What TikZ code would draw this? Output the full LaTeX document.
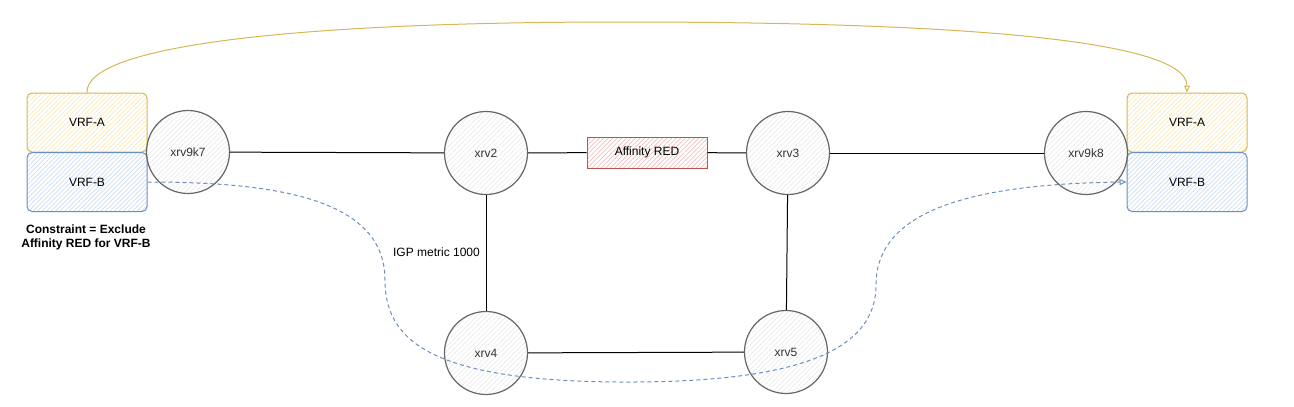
\documentclass[tikz,border=0pt]{standalone}
\usepackage{fontspec}
\setmainfont{Liberation Sans}
\usetikzlibrary{arrows.meta,patterns.meta}
\definecolor{yfill}{HTML}{FFF2CC}
\definecolor{ystroke}{HTML}{D6B656}
\definecolor{bfill}{HTML}{DAE8FC}
\definecolor{bstroke}{HTML}{6C8EBF}
\definecolor{rfill}{HTML}{F8CECC}
\definecolor{rstroke}{HTML}{B85450}
\definecolor{gstroke}{HTML}{666666}
\definecolor{gfill}{HTML}{E6E6E6}
\definecolor{gtext}{HTML}{333333}
\tikzset{
  router/.style={circle, draw=gstroke, line width=1.2pt, minimum size=83pt, inner sep=0pt,
    pattern={Lines[angle=45,distance=3.5pt,line width=0.5pt]}, pattern color=gfill,
    text=gtext, font=\fontsize{12}{14}\selectfont},
  vrfa/.style={rectangle, rounded corners=5pt, draw=ystroke, line width=1pt, minimum width=120pt, minimum height=59pt,
    pattern={Lines[angle=45,distance=3.2pt,line width=0.7pt]}, pattern color=yfill!85!ystroke,
    font=\fontsize{12}{14}\selectfont},
  vrfb/.style={rectangle, rounded corners=5pt, draw=bstroke, line width=1pt, minimum width=120pt, minimum height=59pt,
    pattern={Lines[angle=45,distance=3.2pt,line width=0.7pt]}, pattern color=bfill!88!bstroke,
    font=\fontsize{12}{14}\selectfont},
  affbox/.style={rectangle, draw=rstroke, line width=1pt, minimum width=120pt, minimum height=31pt,
    pattern={Lines[angle=45,distance=3.2pt,line width=0.7pt]}, pattern color=rfill!88!rstroke,
    font=\fontsize{12}{14}\selectfont},
  link/.style={draw=black, line width=1pt},
  lbl/.style={font=\fontsize{12}{14}\selectfont, inner sep=0pt},
}
\begin{document}
\begin{tikzpicture}[x=1pt,y=-1pt]
\useasboundingbox (0,0) rectangle (1294,407);
% left VRFs
\node[vrfa] (vrfaL) at (87,122.5) {VRF-A};
\node[vrfb] (vrfbL) at (87,182) {VRF-B};
\node[lbl, font=\fontsize{12}{14}\selectfont\bfseries, align=center] (constr) at (86,237) {Constraint = Exclude\\Affinity RED for VRF-B};
% right VRFs
\node[vrfa] (vrfaR) at (1187,122.5) {VRF-A};
\node[vrfb] (vrfbR) at (1187,182) {VRF-B};
% routers
\node[router] (k7) at (188,152) {xrv9k7};
\node[router] (x2) at (486,153) {xrv2};
\node[router] (x3) at (788,153) {xrv3};
\node[router] (k8) at (1086,153) {xrv9k8};
\node[router] (x4) at (486,353) {xrv4};
\node[router] (x5) at (786,352) {xrv5};
\node[affbox] (aff) at (647,152.5) {Affinity RED};
% links
\draw[link] (k7) -- (x2);
\draw[link] (x2) -- (aff);
\draw[link] (aff) -- (x3);
\draw[link] (x3) -- (k8);
\draw[link] (x2) -- (x4);
\draw[link] (x3) -- (x5);
\draw[link] (x4) -- (x5);
\node[lbl, anchor=east] (igp) at (480,252) {IGP metric 1000};
% yellow arc
\draw[ystroke, line width=1pt, -{Triangle[open,length=7pt,width=6pt]}]
  (vrfaL.north) .. controls (85,45) and (300,22) .. (620,22)
  .. controls (960,22) and (1187,40) .. (vrfaR.north);
% blue dashed path
\draw[bstroke, line width=1pt, dash pattern=on 4pt off 3pt, -{Triangle[open,length=7pt,width=6pt]}]
  (vrfbL.east) .. controls (280,182) and (385,200) .. (385,280)
  .. controls (385,340) and (430,381) .. (620,382)
  .. controls (800,383) and (876,350) .. (876,285)
  .. controls (876,215) and (960,184) .. (vrfbR.west);
\end{tikzpicture}
\end{document}
